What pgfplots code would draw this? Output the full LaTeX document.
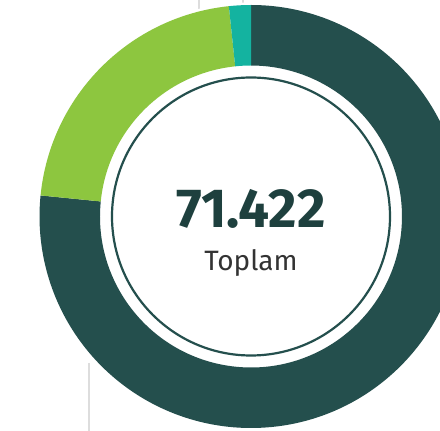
\documentclass[border=0pt]{standalone}
\usepackage{pgfplots}
\usepackage{pgfplotstable}
\pgfplotsset{compat=1.18}
\usepackage{fontspec}
\setmainfont{Fira Sans}
\definecolor{cDark}{HTML}{244F4D}
\definecolor{cGreen}{HTML}{8DC63F}
\definecolor{cTeal}{HTML}{14B3A0}
\definecolor{cText}{HTML}{1E403E}
\definecolor{cGrid}{HTML}{DDDDDD}
\pgfplotstableread{
label value
A 54700
B 15530
C 1192
}\donutdata
\pgfplotstablegetelem{0}{value}\of\donutdata \let\vA\pgfplotsretval
\pgfplotstablegetelem{1}{value}\of\donutdata \let\vB\pgfplotsretval
\pgfplotstablegetelem{2}{value}\of\donutdata \let\vC\pgfplotsretval
\edef\tot{\fpeval{\vA+\vB+\vC}}
\def\aS{90}
\edef\aA{\fpeval{round(90-360*\vA/\tot,4)}}
\edef\aB{\fpeval{round(\aA-360*\vB/\tot,4)}}
\edef\aC{\fpeval{round(\aB-360*\vC/\tot,4)}}
\def\cx{251}\def\cy{214.5}\def\Ro{211.5}\def\Ri{151}
\newcommand{\donutwedge}[3]{%
  \fill[#3] (axis cs:{\cx+\Ro*cos(#1)},{\cy+\Ro*sin(#1)})
    arc[start angle=#1, end angle=#2, radius=\Ro pt]
    -- (axis cs:{\cx+\Ri*cos(#2)},{\cy+\Ri*sin(#2)})
    arc[start angle=#2, end angle=#1, radius=\Ri pt] -- cycle;}
\begin{document}
\begin{tikzpicture}
\begin{axis}[
  scale only axis, width=440pt, height=431pt,
  xmin=0, xmax=440, ymin=0, ymax=431,
  hide axis, clip=true,
]
\draw[cGrid, line width=1.5pt] (axis cs:199,431) -- (axis cs:199,400);
\draw[cGrid, line width=1.5pt] (axis cs:243,431) -- (axis cs:243,400);
\draw[cGrid, line width=1.5pt] (axis cs:89,68) -- (axis cs:89,0);
\fill[white] (axis cs:\cx,\cy) circle[radius=214pt];
\donutwedge{\aS}{\aA}{cDark}
\donutwedge{\aA}{\aB}{cGreen}
\donutwedge{\aB}{\aC}{cTeal}
\draw[cDark, line width=2.2pt, fill=white] (axis cs:\cx,\cy) circle[radius=139pt];
\node[text=cText, font={\fontsize{55}{55}\selectfont\bfseries}, anchor=base] at (axis cs:\cx,203) {71.422};
\node[text=black!80, font={\fontsize{28}{28}\selectfont}, anchor=base] at (axis cs:\cx,160) {Toplam};
\end{axis}
\pgfresetboundingbox
\path (current axis.south west) rectangle (current axis.north east);
\end{tikzpicture}
\end{document}
